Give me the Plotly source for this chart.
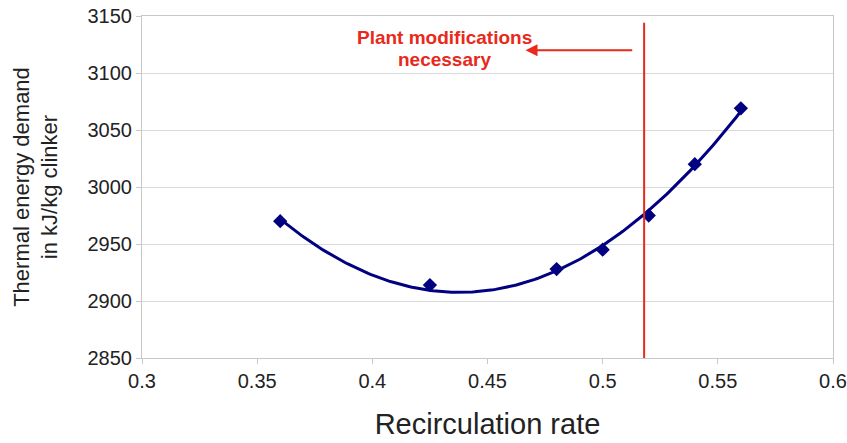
import numpy as np
import plotly.graph_objects as go

# Measured points
recirculation = [0.36, 0.425, 0.48, 0.50, 0.52, 0.54, 0.56]
energy_demand = [2970, 2914, 2928, 2945, 2975, 3020, 3069]

# Limit beyond which the plant has to be modified
limit_rate = 0.518

x_ticks = [0.3, 0.35, 0.4, 0.45, 0.5, 0.55, 0.6]
x_tick_text = ["0.3", "0.35", "0.4", "0.45", "0.5", "0.55", "0.6"]
y_ticks = [2850, 2900, 2950, 3000, 3050, 3100, 3150]

NAVY = "#000080"
RED = "#e8291c"
GRID = "#d9d9d9"
FONT = "Liberation Sans, Arial, sans-serif"

# Second-order polynomial trendline through the measurements
coef = np.polyfit(recirculation, energy_demand, 2)
x_fit = np.linspace(min(recirculation), max(recirculation), 200)
y_fit = np.polyval(coef, x_fit)

fig = go.Figure()
fig.add_trace(go.Scatter(
    x=x_fit, y=y_fit, mode="lines",
    line=dict(color=NAVY, width=3), hoverinfo="skip", showlegend=False,
))
fig.add_trace(go.Scatter(
    x=recirculation, y=energy_demand, mode="markers",
    marker=dict(symbol="diamond", size=11, color=NAVY),
    showlegend=False,
))

# Vertical limit line
fig.add_shape(type="line", xref="x", yref="y",
              x0=limit_rate, x1=limit_rate, y0=2850, y1=3144,
              line=dict(color=RED, width=2))

# Label with arrow
fig.add_annotation(x=0.4313, y=3131, xref="x", yref="y",
                   text="<b>Plant modifications</b>", showarrow=False,
                   font=dict(family=FONT, size=19, color=RED))
fig.add_annotation(x=0.4313, y=3112, xref="x", yref="y",
                   text="<b>necessary</b>", showarrow=False,
                   font=dict(family=FONT, size=19, color=RED))
fig.add_annotation(x=0.4665, y=3120, ax=0.5135, ay=3120,
                   xref="x", yref="y", axref="x", ayref="y",
                   text="", showarrow=True, arrowhead=2, arrowsize=1.2,
                   arrowwidth=2, arrowcolor=RED)

fig.update_layout(
    width=847, height=443,
    margin=dict(l=142, r=14, t=16, b=85),
    paper_bgcolor="white", plot_bgcolor="white",
    font=dict(family=FONT, color="#222222"),
)
fig.update_xaxes(
    range=[0.3, 0.6], tickvals=x_ticks, ticktext=x_tick_text, automargin=False,
    tickfont=dict(size=20), ticks="outside", ticklen=5, tickcolor="#c8c8c8",
    showgrid=False, zeroline=False,
    showline=True, linecolor="#c8c8c8", linewidth=1, mirror=True,
    title=dict(text="Recirculation rate", font=dict(size=29), standoff=22),
)
fig.update_yaxes(
    range=[2850, 3150], tickvals=y_ticks, automargin=False,
    tickfont=dict(size=20), ticks="outside", ticklen=5, tickcolor="#c8c8c8",
    showgrid=True, gridcolor=GRID, gridwidth=1, zeroline=False,
    showline=True, linecolor="#c8c8c8", linewidth=1, mirror=True,
    title=dict(text="Thermal energy demand<br>in kJ/kg clinker",
               font=dict(size=22), standoff=23),
)

fig.write_html("out.html")
